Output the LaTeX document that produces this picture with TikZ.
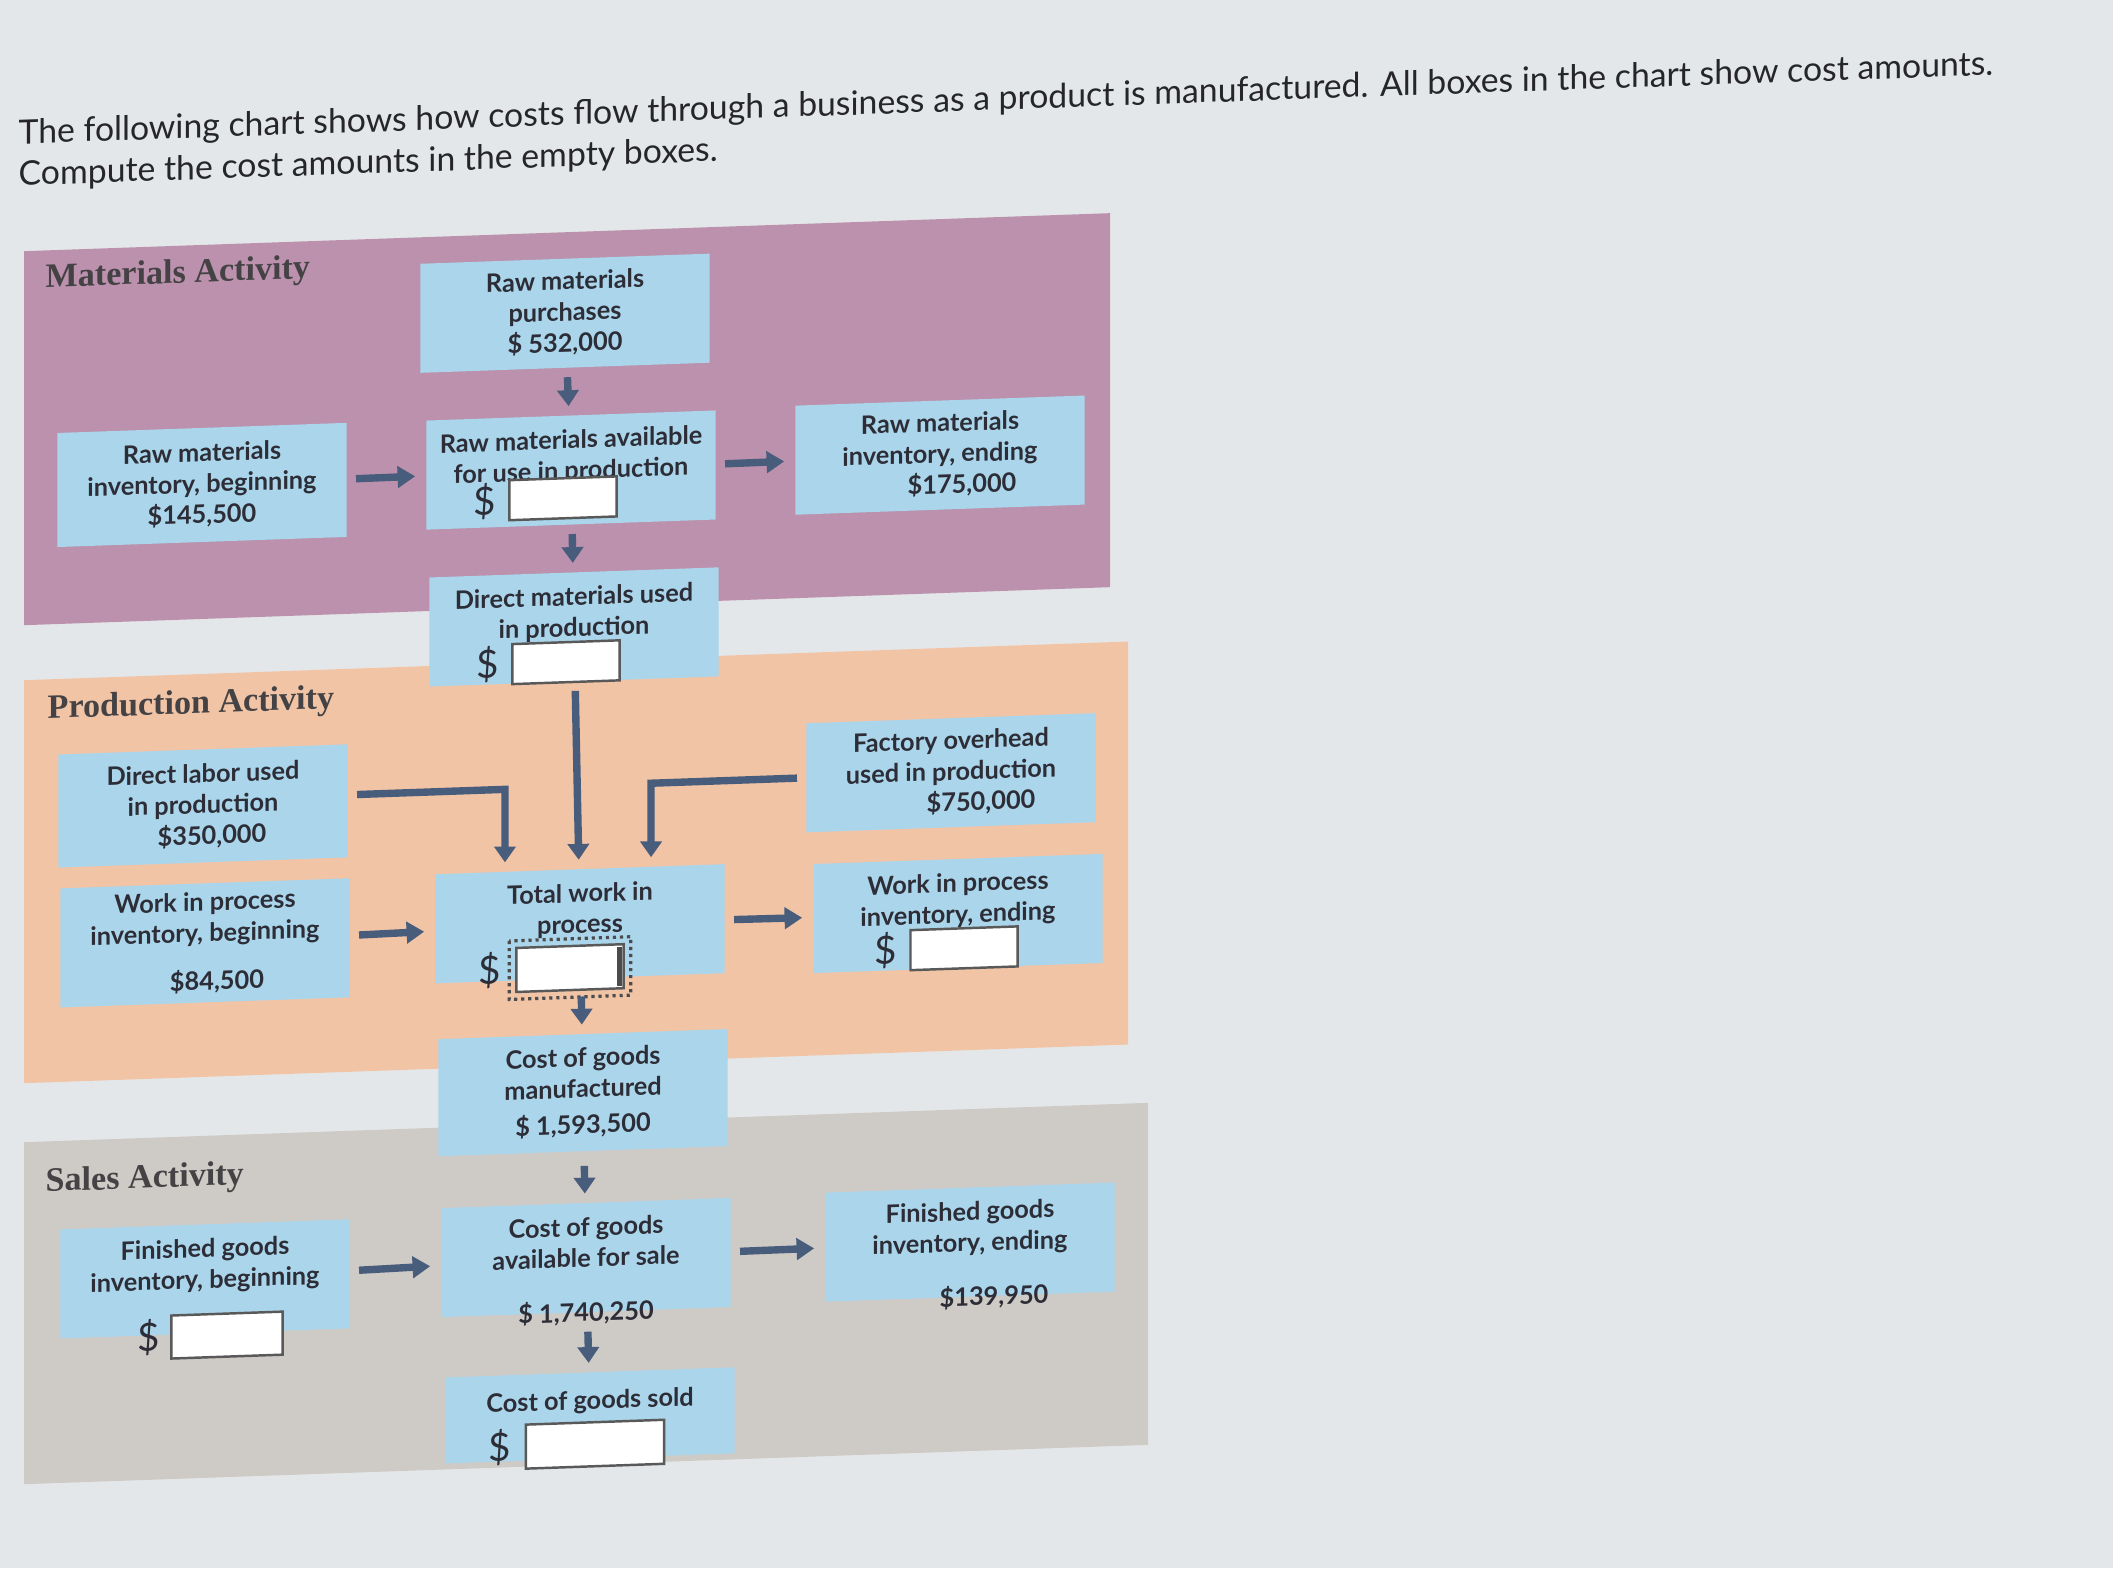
\documentclass[tikz,border=0pt]{standalone}
\usepackage{fontspec}
\setmainfont{Lato}
\newfontfamily\headfont{Liberation Serif}
\usetikzlibrary{arrows.meta,positioning}
\definecolor{screen}{RGB}{228,231,233}
\definecolor{matpanel}{RGB}{187,145,173}
\definecolor{prodpanel}{RGB}{242,196,166}
\definecolor{salespanel}{RGB}{206,202,197}
\definecolor{boxblue}{RGB}{170,213,234}
\definecolor{flowblue}{RGB}{72,92,124}
\definecolor{ink}{RGB}{45,45,55}
\definecolor{headgray}{RGB}{68,66,68}
\definecolor{introink}{RGB}{38,38,42}

\tikzset{
  intro/.style={anchor=west,inner sep=0pt,align=left,text=introink,font=\fontsize{9.6}{11.8}\selectfont},
  heading/.style={anchor=west,inner sep=0pt,text=headgray,font=\headfont\bfseries\fontsize{9.7}{12}\selectfont},
  costbox/.style={fill=boxblue,text=ink,font=\fontsize{7.2}{8.8}\selectfont\bfseries,align=center,
    minimum width=2.89cm,minimum height=1.09cm,inner sep=1pt},
  amount/.style={inner sep=0pt,text=ink,font=\fontsize{7.2}{8.8}\selectfont\bfseries},
  ansbox/.style={draw=black!65,fill=white,line width=0.7pt,minimum width=1.07cm,minimum height=0.40cm,inner sep=0pt},
  dollar/.style={inner sep=0pt,text=ink,font=\fontsize{11}{11}\selectfont},
  focus/.style={draw=black!70,line width=0.9pt,dash pattern=on 0.9pt off 1.1pt},
  flow/.style={draw=flowblue,line width=2.1pt,-{Triangle[length=5pt,width=6pt]},shorten <=2.5pt,shorten >=3pt},
  feed/.style={draw=flowblue,line width=2.1pt,-{Triangle[length=4.5pt,width=6pt]},shorten <=2.5pt,shorten >=2.5pt},
}

\begin{document}
\begin{tikzpicture}[x=0.01cm,y=-0.01cm]
\useasboundingbox (0,0) rectangle (2113,1568);
\fill[screen] (0,0) rectangle (2113,1568);
\begin{scope}[yslant=0.035,transform shape]
% question
\node[intro] (intro) at (18,156) {The following chart shows how costs flow through a business as a product is manufactured. All boxes in the chart show cost amounts.\\Compute the cost amounts in the empty boxes.};

% activity areas
\fill[matpanel] (24,252) rectangle (1110,626);
\fill[prodpanel] (24,681) rectangle (1128,1084);
\fill[salespanel] (24,1143) rectangle (1148,1485);
\node[heading] (mathead) at (45,281) {Materials Activity};
\node[heading] (prodhead) at (47,712) {Production Activity};
\node[heading] (salehead) at (45,1185) {Sales Activity};

% materials activity
\node[costbox] (purch) at (565,333) {Raw materials\\purchases\\\$ 532,000};
\node[costbox,minimum height=1.14cm] (rmbeg) at (202,492) {Raw materials\\inventory, beginning\\\$145,500};
\node[costbox] (rmavail) at (571,490) {Raw materials available\\for use in production\\\mbox{}};
\node[costbox] (rmend) at (940,488) {Raw materials\\inventory, ending\\\hspace*{0.44cm}\$175,000};
\node[costbox] (dmused) at (574,647) {Direct materials used\\in production\\\mbox{}};

% production activity
\node[costbox,minimum height=1.13cm] (labor) at (203,813) {Direct labor used\\in production\\\hspace*{0.18cm}\$350,000};
\node[costbox] (ovh) at (951,806) {Factory overhead\\used in production\\\hspace*{0.6cm}\$750,000};
\node[costbox,minimum height=1.19cm] (wipbeg) at (205,950) {Work in process\\inventory, beginning\\[5pt]\hspace*{0.24cm}\$84,500};
\node[costbox] (twip) at (580,944) {Total work in\\process\\\mbox{}};
\node[costbox] (wipend) at (958,947) {Work in process\\inventory, ending\\\mbox{}};
\node[costbox,minimum height=1.17cm] (cogm) at (583,1113) {Cost of goods\\manufactured\\[1.5pt]\$ 1,593,500};

% sales activity
\node[costbox] (fgbeg) at (205,1286) {Finished goods\\inventory, beginning\\\mbox{}};
\node[costbox] (avail) at (586,1278) {Cost of goods\\available for sale\\\mbox{}};
\node[costbox] (fgend) at (970,1276) {Finished goods\\inventory, ending\\\mbox{}};
\node[costbox,minimum height=0.86cm] (cogs) at (590,1436) {Cost of goods sold\\\mbox{}};
\node[amount] (avail-amt) at (avail.south) {\$ 1,740,250};
\node[amount] (fgend-amt) at ([xshift=0.24cm]fgend.south) {\$139,950};

% empty answer boxes
\node[ansbox] (rmavail-a) at ([shift={(-8,28)}]rmavail.center) {};
\node[dollar,left=0.12cm of rmavail-a] (rmavail-d) {\$};
\node[ansbox] (dmused-a) at ([shift={(-8,35)}]dmused.center) {};
\node[dollar,left=0.12cm of dmused-a] (dmused-d) {\$};
\node[ansbox,minimum height=0.44cm] (twip-a) at ([shift={(-10,44)}]twip.center) {};
\node[dollar,left=0.14cm of twip-a] (twip-d) {\$};
\node[ansbox] (wipend-a) at ([shift={(6,35)}]wipend.center) {};
\node[dollar,left=0.12cm of wipend-a] (wipend-d) {\$};
\node[ansbox,minimum width=1.11cm,minimum height=0.43cm] (fgbeg-a) at ([shift={(22,57)}]fgbeg.center) {};
\node[dollar,left=0.1cm of fgbeg-a] (fgbeg-d) {\$};
\node[ansbox,minimum width=1.38cm,minimum height=0.44cm] (cogs-a) at ([shift={(5,29)}]cogs.center) {};
\node[dollar,left=0.13cm of cogs-a] (cogs-d) {\$};
% focus on total work in process
\draw[focus] ([shift={(-1.7pt,1.7pt)}]twip-a.north west) rectangle ([shift={(1.7pt,-1.7pt)}]twip-a.south east);
\draw[black!70,line width=1.2pt] ([shift={(-1.5pt,-1pt)}]twip-a.north east) -- ([shift={(-1.5pt,1pt)}]twip-a.south east);

% cost flows
\draw[flow] (rmbeg) -- (rmavail);
\draw[flow] (rmavail) -- (rmend);
\draw[flow] (wipbeg) -- (twip);
\draw[flow] (twip) -- (wipend);
\draw[flow] (fgbeg) -- (avail);
\draw[flow] (avail) -- (fgend);
\draw[feed] (purch) -- (rmavail);
\draw[feed] (rmavail) -- (dmused);
\draw[feed] (dmused) -- (twip);
\draw[feed,shorten <=5pt] (twip) -- (cogm);
\draw[feed,shorten <=4pt] (cogm) -- (avail);
\draw[feed,shorten <=5.4pt] (avail) -- (cogs);
\draw[feed] ([yshift=0.06cm]labor.east) -| ([xshift=-0.75cm]twip.north);
\draw[feed] (ovh) -| ([xshift=0.71cm]twip.north);
\end{scope}
\end{tikzpicture}
\end{document}
